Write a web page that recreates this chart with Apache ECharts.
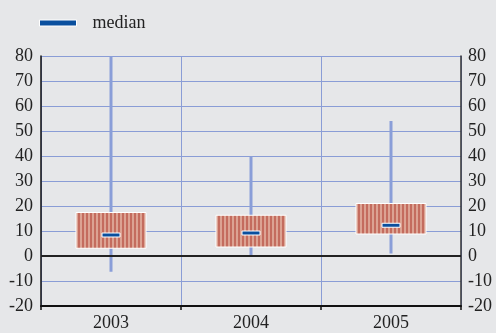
<!DOCTYPE html>
<html><head><meta charset="utf-8">
<script src="https://cdn.jsdelivr.net/npm/echarts@6/dist/echarts.min.js"></script>
<style>html,body{margin:0;padding:0;background:#e6e7e9;}#c{width:496px;height:333px;}</style>
</head><body><div id="c"></div>
<script>
var categories = ['2003', '2004', '2005'];
var whiskerLow = [-6.3, -0.2, 1.0];
var boxLow = [3.1, 3.6, 8.8];
var medians = [8.4, 9.2, 12.3];
var boxHigh = [17.4, 16.3, 21.0];
var whiskerHigh = [80, 40, 54];

var data = categories.map(function (c, i) {
  return [i, whiskerLow[i], boxLow[i], medians[i], boxHigh[i], whiskerHigh[i]];
});

var pc = document.createElement('canvas');
pc.width = 4; pc.height = 4;
var pctx = pc.getContext('2d');
pctx.fillStyle = '#c46c5e'; pctx.fillRect(0, 0, 4, 4);
pctx.fillStyle = '#dca393'; pctx.fillRect(0, 0, 2, 4);

var font = '"Liberation Serif", "DejaVu Serif", serif';
var chart = echarts.init(document.getElementById('c'));
chart.setOption({
  backgroundColor: '#e6e7e9',
  animation: false,
  textStyle: { fontFamily: font },
  legend: {
    left: 34, top: 9, itemWidth: 37, itemHeight: 6, itemGap: 10,
    data: [{ name: 'median', icon: 'rect', itemStyle: { color: '#0a4f9e', borderColor: '#fff', borderWidth: 1 } }],
    textStyle: { fontFamily: font, fontSize: 18, color: '#222', padding: [0, 0, 0, 11] }
  },
  grid: { left: 41, right: 35, top: 56, bottom: 27 },
  xAxis: {
    type: 'category', data: categories, boundaryGap: true,
    axisLine: { onZero: false, lineStyle: { color: '#111', width: 2 } },
    axisTick: { show: true, length: 4, lineStyle: { color: '#111', width: 1.5 } },
    axisLabel: { fontFamily: font, fontSize: 18, color: '#222', margin: 8 },
    splitLine: { show: true, lineStyle: { color: '#8a9dd6', width: 1 } }
  },
  yAxis: [
    { type: 'value', min: -20, max: 80, interval: 10, position: 'left',
      axisLine: { show: true, onZero: false, lineStyle: { color: '#111', width: 1.5 } },
      axisTick: { show: false },
      axisLabel: { fontFamily: font, fontSize: 18, color: '#222', margin: 8 },
      splitLine: { lineStyle: { color: '#8a9dd6', width: 1 } } },
    { type: 'value', min: -20, max: 80, interval: 10, position: 'right',
      axisLine: { show: true, onZero: false, lineStyle: { color: '#333', width: 1.5 } },
      axisTick: { show: false },
      axisLabel: { fontFamily: font, fontSize: 18, color: '#222', margin: 7 },
      splitLine: { show: false } }
  ],
  series: [{
    type: 'custom', name: 'median',
    itemStyle: { color: '#0a4f9e' },
    data: data,
    renderItem: function (params, api) {
      var x = api.value(0);
      var wl = api.coord([x, api.value(1)]);
      var bl = api.coord([x, api.value(2)]);
      var md = api.coord([x, api.value(3)]);
      var bh = api.coord([x, api.value(4)]);
      var wh = api.coord([x, api.value(5)]);
      var band = api.size([1, 0])[0];
      var bw = band * 0.5;
      var mw = 18;
      return {
        type: 'group',
        children: [
          { type: 'line', shape: { x1: wl[0], y1: wl[1], x2: wh[0], y2: wh[1] },
            style: { stroke: '#8a9ed8', lineWidth: 3 } },
          { type: 'rect', shape: { x: bh[0] - bw / 2, y: bh[1], width: bw, height: bl[1] - bh[1] },
            style: { fill: { image: pc, repeat: 'repeat' }, stroke: '#fff', lineWidth: 1 } },
          { type: 'rect', shape: { x: md[0] - mw / 2, y: md[1] - 2, width: mw, height: 4 },
            style: { fill: '#0a4f9e', stroke: '#fff', lineWidth: 1 } }
        ]
      };
    },
    markLine: {
      silent: true, symbol: ['none', 'none'], label: { show: false },
      lineStyle: { color: '#222', width: 2, type: 'solid' },
      data: [{ yAxis: 0 }]
    },
    z: 3
  }]
});
</script></body></html>
